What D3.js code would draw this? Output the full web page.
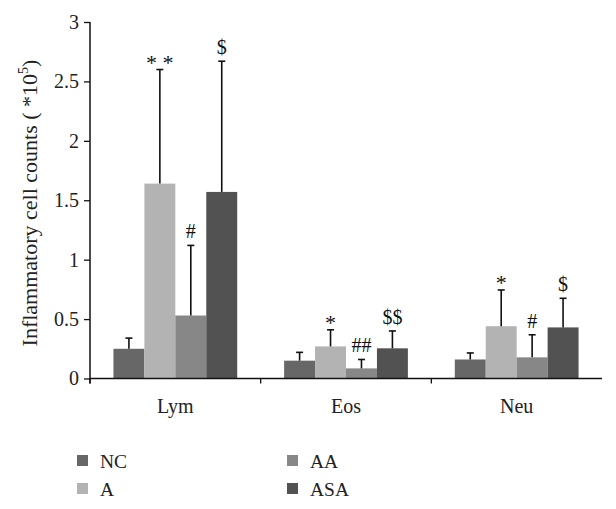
<!DOCTYPE html>
<html><head><meta charset="utf-8">
<script src="https://cdn.jsdelivr.net/npm/d3@7"></script>
<style>body{margin:0;background:#fff}svg{display:block}</style>
</head><body><svg id="c" width="616" height="509"></svg>
<script>
const categories = ["Lym", "Eos", "Neu"];
const seriesNames = ["NC", "A", "AA", "ASA"];
const seriesColors = ["#676767", "#b3b3b3", "#878787", "#525252"];
const valuesNC  = [0.25, 0.15, 0.16];
const valuesA   = [1.64, 0.27, 0.44];
const valuesAA  = [0.53, 0.085, 0.178];
const valuesASA = [1.57, 0.254, 0.43];
const errNC  = [0.09, 0.07, 0.055];
const errA   = [0.96, 0.14, 0.305];
const errAA  = [0.59, 0.075, 0.19];
const errASA = [1.10, 0.146, 0.245];
const marksNC  = ["", "", ""];
const marksA   = ["* *", "*", "*"];
const marksAA  = ["#", "##", "#"];
const marksASA = ["$", "$$", "$"];
const yTicks = [0, 0.5, 1, 1.5, 2, 2.5, 3];
const yTickLabels = ["0", "0.5", "1", "1.5", "2", "2.5", "3"];

const values = [valuesNC, valuesA, valuesAA, valuesASA];
const errs = [errNC, errA, errAA, errASA];
const marks = [marksNC, marksA, marksAA, marksASA];

const svg = d3.select("#c");
const font = "'Liberation Serif', 'Times New Roman', serif";
const mLeft = 90, mRight = 602, mTop = 22, mBottom = 378.5;

const y = d3.scaleLinear().domain([0, 3]).range([mBottom, mTop]);
const x0 = d3.scaleBand().domain(categories).range([mLeft, mRight]).padding(0);
const x1 = d3.scaleBand().domain(seriesNames).range([0, x0.bandwidth()]).paddingInner(0).paddingOuter(0.758);

const data = [];
categories.forEach((c, ci) => seriesNames.forEach((s, si) => {
  data.push({c, s, si, v: values[si][ci], e: errs[si][ci], m: marks[si][ci]});
}));

// bars
svg.append("g").selectAll("rect").data(data).join("rect")
  .attr("x", d => x0(d.c) + x1(d.s))
  .attr("y", d => y(d.v))
  .attr("width", x1.bandwidth())
  .attr("height", d => y(0) - y(d.v))
  .attr("fill", d => seriesColors[d.si]);

// error bars
const eg = svg.append("g").attr("stroke", "#111").attr("stroke-width", 1.6);
data.forEach(d => {
  const cx = x0(d.c) + x1(d.s) + x1.bandwidth() / 2;
  eg.append("line").attr("x1", cx).attr("x2", cx).attr("y1", y(d.v)).attr("y2", y(d.v + d.e));
  eg.append("line").attr("x1", cx - 3.5).attr("x2", cx + 3.5).attr("y1", y(d.v + d.e)).attr("y2", y(d.v + d.e));
});

// significance marks
svg.append("g").selectAll("text").data(data.filter(d => d.m)).join("text")
  .attr("x", d => x0(d.c) + x1(d.s) + x1.bandwidth() / 2)
  .attr("y", d => y(d.v + d.e) - (d.m.includes("*") ? 0 : 7))
  .attr("text-anchor", "middle")
  .attr("font-family", font).attr("font-size", d => d.m.includes("*") ? 22 : 20).attr("fill", "#111")
  .text(d => d.m);

// y axis
const yAxis = d3.axisLeft(y).tickValues(yTicks).tickFormat((d, i) => yTickLabels[i]).tickSize(6).tickPadding(5);
const gy = svg.append("g").attr("transform", `translate(${mLeft},0)`).call(yAxis);
gy.select(".domain").attr("d", `M-0,${mTop}V${mBottom + 5}`).attr("stroke", "#111").attr("stroke-width", 1.5);
gy.selectAll(".tick line").attr("stroke", "#111").attr("stroke-width", 1.3);
gy.selectAll("text").attr("font-family", font).attr("font-size", 20).attr("fill", "#222");

// x axis
const gx = svg.append("g").attr("transform", `translate(0,${mBottom})`);
gx.append("line").attr("x1", mLeft).attr("x2", mRight).attr("stroke", "#111").attr("stroke-width", 1.5);
gx.selectAll(".tk").data(categories).join("line").attr("class", "tk")
  .attr("x1", d => x0(d)).attr("x2", d => x0(d)).attr("y1", 0).attr("y2", 5)
  .attr("stroke", "#111").attr("stroke-width", 1.3);
gx.selectAll("text").data(categories).join("text")
  .attr("x", d => x0(d) + x0.bandwidth() / 2).attr("y", 34)
  .attr("text-anchor", "middle").attr("font-family", font).attr("font-size", 20).attr("fill", "#222")
  .text(d => d);

// y title
const yt = svg.append("text").attr("transform", "translate(37,203) rotate(-90)")
  .attr("text-anchor", "middle").attr("font-family", font).attr("font-size", 22).attr("fill", "#222");
yt.append("tspan").text("Inflammatory cell counts ( *10");
yt.append("tspan").attr("dy", -9).attr("font-size", 14).text("5");
yt.append("tspan").attr("dy", 9).text(")");

// legend
const legPos = [[77, 455], [77, 483], [287, 455], [287, 483]];
const lg = svg.append("g").selectAll("g").data(seriesNames).join("g")
  .attr("transform", (d, i) => `translate(${legPos[i][0]},${legPos[i][1]})`);
lg.append("rect").attr("width", 11).attr("height", 11).attr("fill", (d, i) => seriesColors[i]);
lg.append("text").attr("x", 23).attr("y", 13).attr("font-family", font).attr("font-size", 19.5).attr("fill", "#222").text(d => d);
</script></body></html>
